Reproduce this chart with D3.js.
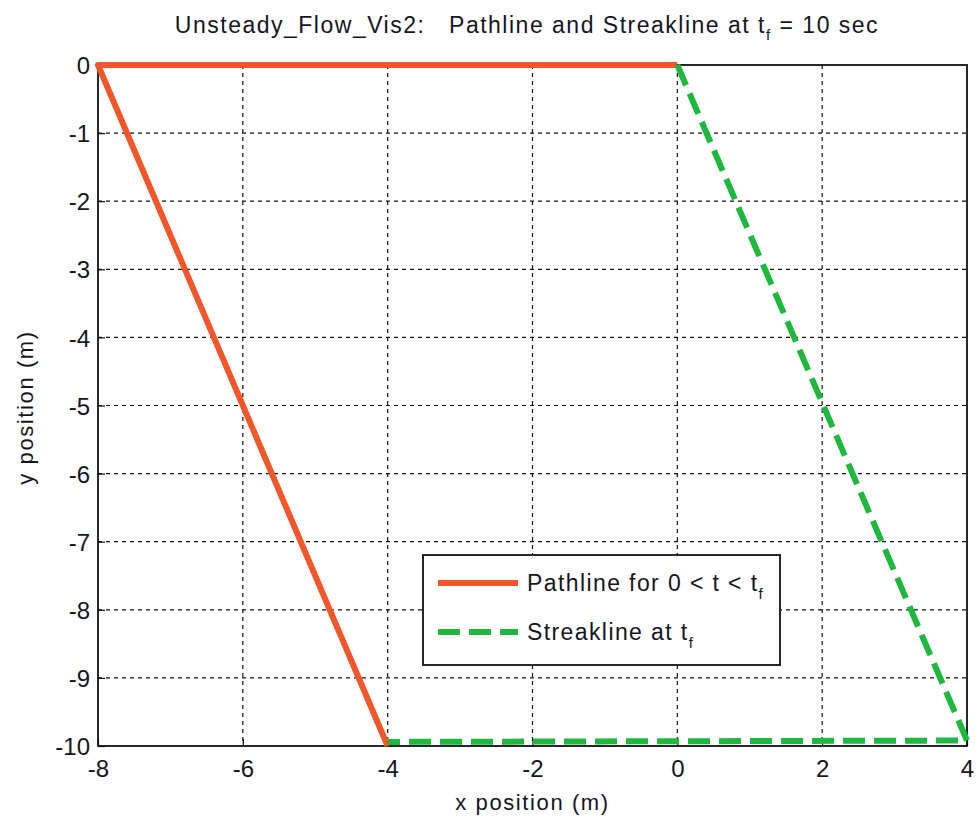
<!DOCTYPE html>
<html>
<head>
<meta charset="utf-8">
<script src="https://cdn.jsdelivr.net/npm/d3@7"></script>
<style>
  body { margin: 0; background: #fff; }
  svg text { font-family: "Liberation Sans", Arial, sans-serif; fill: #15151f; white-space: pre; }
</style>
</head>
<body>
<div id="chart"></div>
<script>
// data
const pathX = [0, -8, -4];
const pathY = [0, 0, -10];
const streakX = [0, 4, -4];
const streakY = [0, -9.92, -9.94];
const xTicks = [-8, -6, -4, -2, 0, 2, 4];
const yTicks = [0, -1, -2, -3, -4, -5, -6, -7, -8, -9, -10];

const W = 978, H = 818;
const margin = {top: 65, right: 11, bottom: 72, left: 98};
const width = W - margin.left - margin.right;
const height = H - margin.top - margin.bottom;

const svg = d3.select("#chart").append("svg")
    .attr("width", W)
    .attr("height", H);

const g = svg.append("g")
    .attr("transform", `translate(${margin.left},${margin.top})`);

const x = d3.scaleLinear().domain([-8, 4]).range([0, width]);
const y = d3.scaleLinear().domain([-10, 0]).range([height, 0]);

// grid
g.selectAll(".gx").data(xTicks.slice(1, -1)).enter().append("line")
    .attr("x1", d => x(d)).attr("x2", d => x(d))
    .attr("y1", 0).attr("y2", height)
    .attr("stroke", "#111").attr("stroke-width", 1.2)
    .attr("stroke-dasharray", "4,4");
g.selectAll(".gy").data(yTicks.slice(1, -1)).enter().append("line")
    .attr("y1", d => y(d)).attr("y2", d => y(d))
    .attr("x1", 0).attr("x2", width)
    .attr("stroke", "#111").attr("stroke-width", 1.2)
    .attr("stroke-dasharray", "4,4");

// frame
g.append("rect")
    .attr("width", width).attr("height", height)
    .attr("fill", "none").attr("stroke", "#111").attr("stroke-width", 1.8);

// axes (ticks inward), plain hyphen for minus like the original
const fmt = d => String(d);
const xAxis = d3.axisBottom(x).tickValues(xTicks).tickSize(-7).tickPadding(14).tickFormat(fmt);
const yAxis = d3.axisLeft(y).tickValues(yTicks).tickSize(-7).tickPadding(8).tickFormat(fmt);
const xg = g.append("g").attr("transform", `translate(0,${height})`).call(xAxis);
const yg = g.append("g").call(yAxis);
[xg, yg].forEach(a => {
    a.select(".domain").remove();
    a.selectAll("line").attr("stroke", "#111").attr("stroke-width", 1.2);
    a.selectAll("text").style("font-size", "24px").attr("fill", "#15151f");
});
xg.selectAll("text").attr("dy", "0.72em");
yg.selectAll("text").attr("dy", "0.36em");

const line = d3.line().x(d => x(d[0])).y(d => y(d[1]));

// pathline
g.append("path")
    .datum(pathX.map((v, i) => [v, pathY[i]]))
    .attr("d", line)
    .attr("fill", "none")
    .attr("stroke", "#f1572b")
    .attr("stroke-width", 6)
    .attr("stroke-linejoin", "round");

// streakline
g.append("path")
    .datum(streakX.map((v, i) => [v, streakY[i]]))
    .attr("d", line)
    .attr("fill", "none")
    .attr("stroke", "#1fb83f")
    .attr("stroke-width", 6)
    .attr("stroke-dasharray", "22,9");

// title
const title = svg.append("text")
    .attr("x", 527).attr("y", 33)
    .attr("text-anchor", "middle")
    .style("font-size", "23px")
    .style("letter-spacing", "1.5px");
title.append("tspan").text("Unsteady_Flow_Vis2:   Pathline and Streakline at t");
title.append("tspan").text("f").attr("dy", 7).style("font-size", "15px");
title.append("tspan").text(" = 10 sec").attr("dy", -7);

// axis labels
svg.append("text")
    .attr("x", margin.left + width / 2).attr("y", 810)
    .attr("text-anchor", "middle")
    .style("font-size", "22px")
    .style("letter-spacing", "1.6px")
    .text("x position (m)");
svg.append("text")
    .attr("transform", `translate(33,${margin.top + height / 2 + 2}) rotate(-90)`)
    .attr("text-anchor", "middle")
    .style("font-size", "22px")
    .style("letter-spacing", "1.6px")
    .text("y position (m)");

// legend
const leg = svg.append("g").attr("transform", "translate(423,555)");
leg.append("rect")
    .attr("width", 357).attr("height", 110)
    .attr("fill", "#fff").attr("stroke", "#111").attr("stroke-width", 1.8);
const legendItems = [
    {label: "Pathline for 0 < t < t", sub: "f", color: "#f1572b", dash: null},
    {label: "Streakline at t", sub: "f", color: "#1fb83f", dash: "22,9"}
];
legendItems.forEach((d, i) => {
    const yy = 28 + i * 49;
    leg.append("line")
        .attr("x1", 15).attr("x2", 95)
        .attr("y1", yy).attr("y2", yy)
        .attr("stroke", d.color).attr("stroke-width", 6)
        .attr("stroke-dasharray", d.dash);
    const t = leg.append("text")
        .attr("x", 104).attr("y", yy + 8)
        .style("font-size", "23px")
        .style("letter-spacing", "1.4px");
    t.append("tspan").text(d.label);
    t.append("tspan").text(d.sub).attr("dy", 8).style("font-size", "15px");
});
</script>
</body>
</html>
